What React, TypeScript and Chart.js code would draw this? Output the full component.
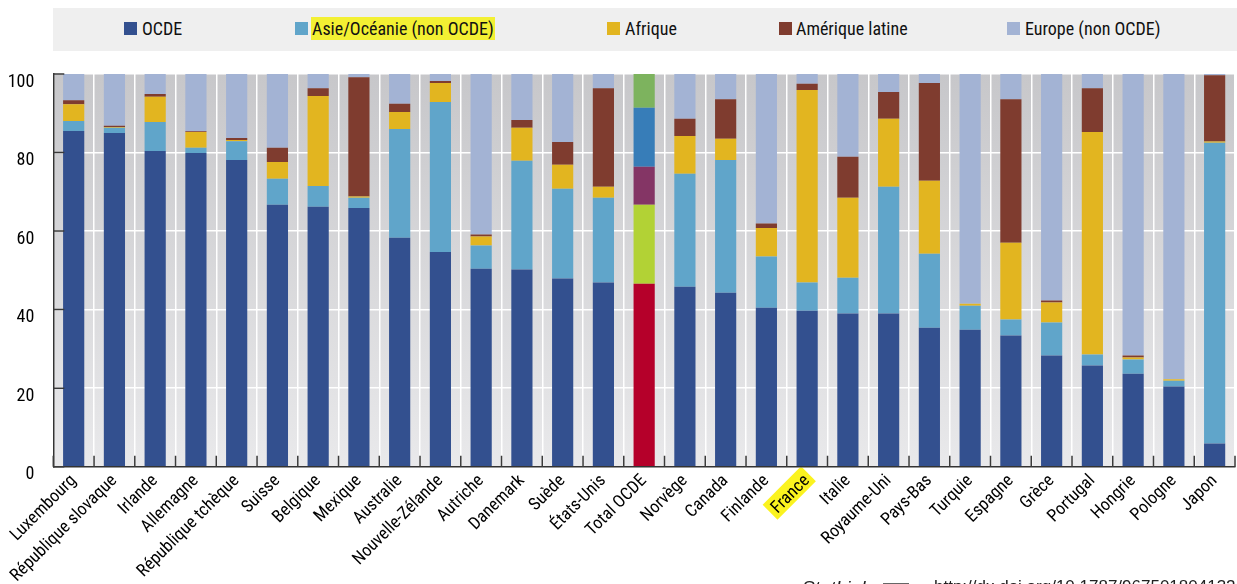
import React, { useEffect, useRef } from 'react';
import { Chart, registerables } from 'chart.js';

Chart.register(...registerables);

const FONT = "'Roboto Condensed', 'Liberation Sans Narrow', 'Arial Narrow', 'Open Sans Condensed', 'DejaVu Sans Condensed', sans-serif";

const categories = [
  'Luxembourg', 'République slovaque', 'Irlande', 'Allemagne', 'République tchèque', 'Suisse',
  'Belgique', 'Mexique', 'Australie', 'Nouvelle-Zélande', 'Autriche', 'Danemark', 'Suède',
  'États-Unis', 'Total OCDE', 'Norvège', 'Canada', 'Finlande', 'France', 'Italie', 'Royaume-Uni',
  'Pays-Bas', 'Turquie', 'Espagne', 'Grèce', 'Portugal', 'Hongrie', 'Pologne', 'Japon',
];

const ocde = [85.5, 85.0, 80.4, 79.9, 78.1, 66.7, 66.2, 65.9, 58.3, 54.7, 50.4, 50.2, 47.9, 46.9, 46.6, 45.8, 44.3, 40.5, 39.7, 39.0, 39.0, 35.4, 34.9, 33.4, 28.3, 25.8, 23.7, 20.4, 5.9];
const asieOceanie = [2.5, 1.3, 7.4, 1.3, 4.8, 6.6, 5.3, 2.6, 27.7, 38.2, 5.9, 27.7, 22.9, 21.6, 20.1, 28.8, 33.8, 13.0, 7.2, 9.1, 32.3, 18.8, 6.1, 4.1, 8.4, 2.8, 3.6, 1.5, 76.6];
const afrique = [4.3, 0.2, 6.4, 4.0, 0.3, 4.3, 22.9, 0.3, 4.3, 4.8, 2.3, 8.4, 6.1, 2.8, 9.7, 9.6, 5.4, 7.3, 49.0, 20.4, 17.3, 18.6, 0.5, 19.5, 5.1, 56.6, 0.5, 0.4, 0.3];
const ameriqueLatine = [1.0, 0.3, 0.7, 0.2, 0.5, 3.6, 2.0, 30.4, 2.1, 0.5, 0.5, 2.0, 5.8, 25.1, 15.0, 4.4, 10.1, 1.1, 1.6, 10.4, 6.8, 24.9, 0.0, 36.6, 0.5, 11.2, 0.5, 0.0, 16.9];
const europeNonOcde = [6.7, 13.2, 5.1, 14.6, 16.3, 18.8, 3.6, 0.8, 7.6, 1.8, 40.9, 11.7, 17.3, 3.6, 8.6, 11.4, 6.4, 38.1, 2.5, 21.1, 4.6, 2.3, 58.5, 6.4, 57.7, 3.6, 71.7, 77.7, 0.3];

const seriesNames = ['OCDE', 'Asie/Océanie (non OCDE)', 'Afrique', 'Amérique latine', 'Europe (non OCDE)'];
const seriesColors = ['#33508f', '#60a5ca', '#e2b520', '#7f3c2f', '#a3b3d4'];
const totalColors = ['#b5002a', '#b2d235', '#843565', '#377db8', '#7db35e'];
const yTickValues = [0, 20, 40, 60, 80, 100];

const TOTAL_LABEL = 'Total OCDE';
const HIGHLIGHT_LABEL = 'France';
const LABEL_SIZE = 17.5;

const legendPos = [
  { marker: 124, text: 142 },
  { marker: 295, text: 312 },
  { marker: 607, text: 625 },
  { marker: 779, text: 796 },
  { marker: 1007, text: 1025 },
];

const decorPlugin = {
  id: 'decor',
  beforeDraw(chart: any) {
    const { ctx, chartArea: a } = chart;
    ctx.save();
    const g = ctx.createLinearGradient(0, a.top, 0, a.bottom);
    g.addColorStop(0, '#c7c7ca');
    g.addColorStop(1, '#e9e9eb');
    ctx.fillStyle = g;
    ctx.fillRect(a.left, a.top, a.right - a.left, a.bottom - a.top);

    const xs = chart.scales.x;
    const items = xs.getLabelItems();
    items.forEach((it: any) => {
      if (it.label !== HIGHLIGHT_LABEL) return;
      const o = it.options;
      ctx.save();
      ctx.translate(o.translation[0], o.translation[1]);
      ctx.rotate(o.rotation);
      ctx.font = `${LABEL_SIZE}px ${FONT}`;
      ctx.textBaseline = o.textBaseline;
      const m = ctx.measureText(it.label);
      const w = m.width;
      const asc = m.actualBoundingBoxAscent;
      const desc = m.actualBoundingBoxDescent;
      const x0 = o.textAlign === 'right' ? -w : o.textAlign === 'center' ? -w / 2 : 0;
      const y = it.textOffset || 0;
      ctx.fillStyle = '#fbf31f';
      ctx.fillRect(x0 - 4, y - asc - 4, w + 8, asc + desc + 8);
      ctx.restore();
    });
    ctx.restore();
  },
  afterDraw(chart: any) {
    const { ctx, chartArea: a } = chart;
    const xs = chart.scales.x;
    const ys = chart.scales.y;
    ctx.save();
    ctx.strokeStyle = '#3a3a3a';
    ctx.lineWidth = 1.5;
    ctx.beginPath();
    for (let i = 0; i <= categories.length; i++) {
      const x = xs.getPixelForValue(i - 0.5);
      ctx.moveTo(x, a.bottom);
      ctx.lineTo(x, a.bottom - 11);
    }
    yTickValues.forEach((v) => {
      const y = ys.getPixelForValue(v);
      ctx.moveTo(a.left, y);
      ctx.lineTo(a.left + 11, y);
    });
    ctx.stroke();
    ctx.restore();
  },
};

export default function App() {
  const canvasRef = useRef<HTMLCanvasElement | null>(null);

  useEffect(() => {
    if (!canvasRef.current) return;
    Chart.defaults.font.family = FONT;
    const totalIndex = categories.indexOf(TOTAL_LABEL);
    const seriesData = [ocde, asieOceanie, afrique, ameriqueLatine, europeNonOcde];
    const chart = new Chart(canvasRef.current, {
      type: 'bar',
      data: {
        labels: categories,
        datasets: seriesData.map((d, s) => ({
          label: seriesNames[s],
          data: d,
          backgroundColor: categories.map((_, i) => (i === totalIndex ? totalColors[s] : seriesColors[s])),
          borderWidth: 0,
          barPercentage: 0.52,
          categoryPercentage: 1,
          stack: 'all',
        })),
      },
      options: {
        animation: false,
        responsive: false,
        maintainAspectRatio: false,
        layout: { padding: { top: 24, right: 2, left: 0, bottom: 0 } },
        plugins: {
          legend: { display: false },
          tooltip: { enabled: false },
        },
        scales: {
          x: {
            stacked: true,
            grid: { color: '#ffffff', lineWidth: 1.5, offset: true, drawTicks: false },
            border: { color: '#333333', width: 1.5 },
            ticks: {
              autoSkip: false,
              maxRotation: 45,
              minRotation: 45,
              padding: 4,
              color: '#000',
              font: { size: LABEL_SIZE, family: FONT },
            },
            afterFit(scale: any) {
              scale.height = 117.3;
              scale.paddingLeft = 0;
              scale.paddingRight = 0;
            },
          },
          y: {
            stacked: true,
            min: 0,
            max: 100,
            afterBuildTicks(scale: any) {
              scale.ticks = yTickValues.map((v) => ({ value: v }));
            },
            grid: { color: '#ffffff', lineWidth: 1.5, drawTicks: false },
            border: { color: '#333333', width: 1.5 },
            ticks: {
              padding: 19,
              labelOffset: 8,
              color: '#000',
              font: { size: 18, family: FONT },
            },
            afterFit(scale: any) {
              scale.width = 53.3;
              scale.paddingTop = 0;
              scale.paddingBottom = 0;
            },
          },
        },
      },
      plugins: [decorPlugin],
    });
    return () => chart.destroy();
  }, []);

  return (
    <div
      style={{
        position: 'fixed',
        left: 0,
        top: 0,
        width: 1237,
        height: 584,
        overflow: 'hidden',
        background: '#fff',
        fontFamily: FONT,
      }}
    >
      <div
        style={{
          position: 'absolute',
          left: 53,
          top: 8,
          width: 1184,
          height: 43,
          background: '#efefef',
        }}
      >
        {seriesNames.map((name, i) => (
          <React.Fragment key={name}>
            <div
              style={{
                position: 'absolute',
                left: legendPos[i].marker - 53,
                top: 14,
                width: 13,
                height: 13,
                background: seriesColors[i],
              }}
            />
            <div
              style={{
                position: 'absolute',
                left: legendPos[i].text - 53,
                top: i === 1 ? 9 : 10,
                height: i === 1 ? 23 : 21,
                lineHeight: i === 1 ? '23px' : '21px',
                fontSize: 18,
                color: '#111',
                whiteSpace: 'nowrap',
                background: i === 1 ? '#f3f033' : 'transparent',
                padding: i === 1 ? '0 1px' : 0,
                marginLeft: i === 1 ? -1 : 0,
              }}
            >
              {name}
            </div>
          </React.Fragment>
        ))}
      </div>
      <canvas
        ref={canvasRef}
        width={1237}
        height={534}
        style={{ position: 'absolute', left: 0, top: 50, width: 1237, height: 534 }}
      />
      <div
        style={{
          position: 'absolute',
          left: 802,
          top: 577,
          color: '#222',
          whiteSpace: 'nowrap',
          display: 'flex',
          alignItems: 'flex-start',
          fontFamily: "'Liberation Sans', Arial, sans-serif",
        }}
      >
        <span style={{ fontStyle: 'italic', fontSize: 19, width: 78, display: 'inline-block' }}>StatLink</span>
        <svg width="44" height="14" style={{ marginLeft: 3, marginTop: 4 }}>
          <path d="M0 3 L26 3" stroke="#333" strokeWidth="1.5" />
          <ellipse cx="34" cy="9" rx="9" ry="6" fill="#111" />
        </svg>
        <span style={{ marginLeft: 7, fontSize: 17 }}>http://dx.doi.org/10.1787/967501804132</span>
      </div>
    </div>
  );
}
